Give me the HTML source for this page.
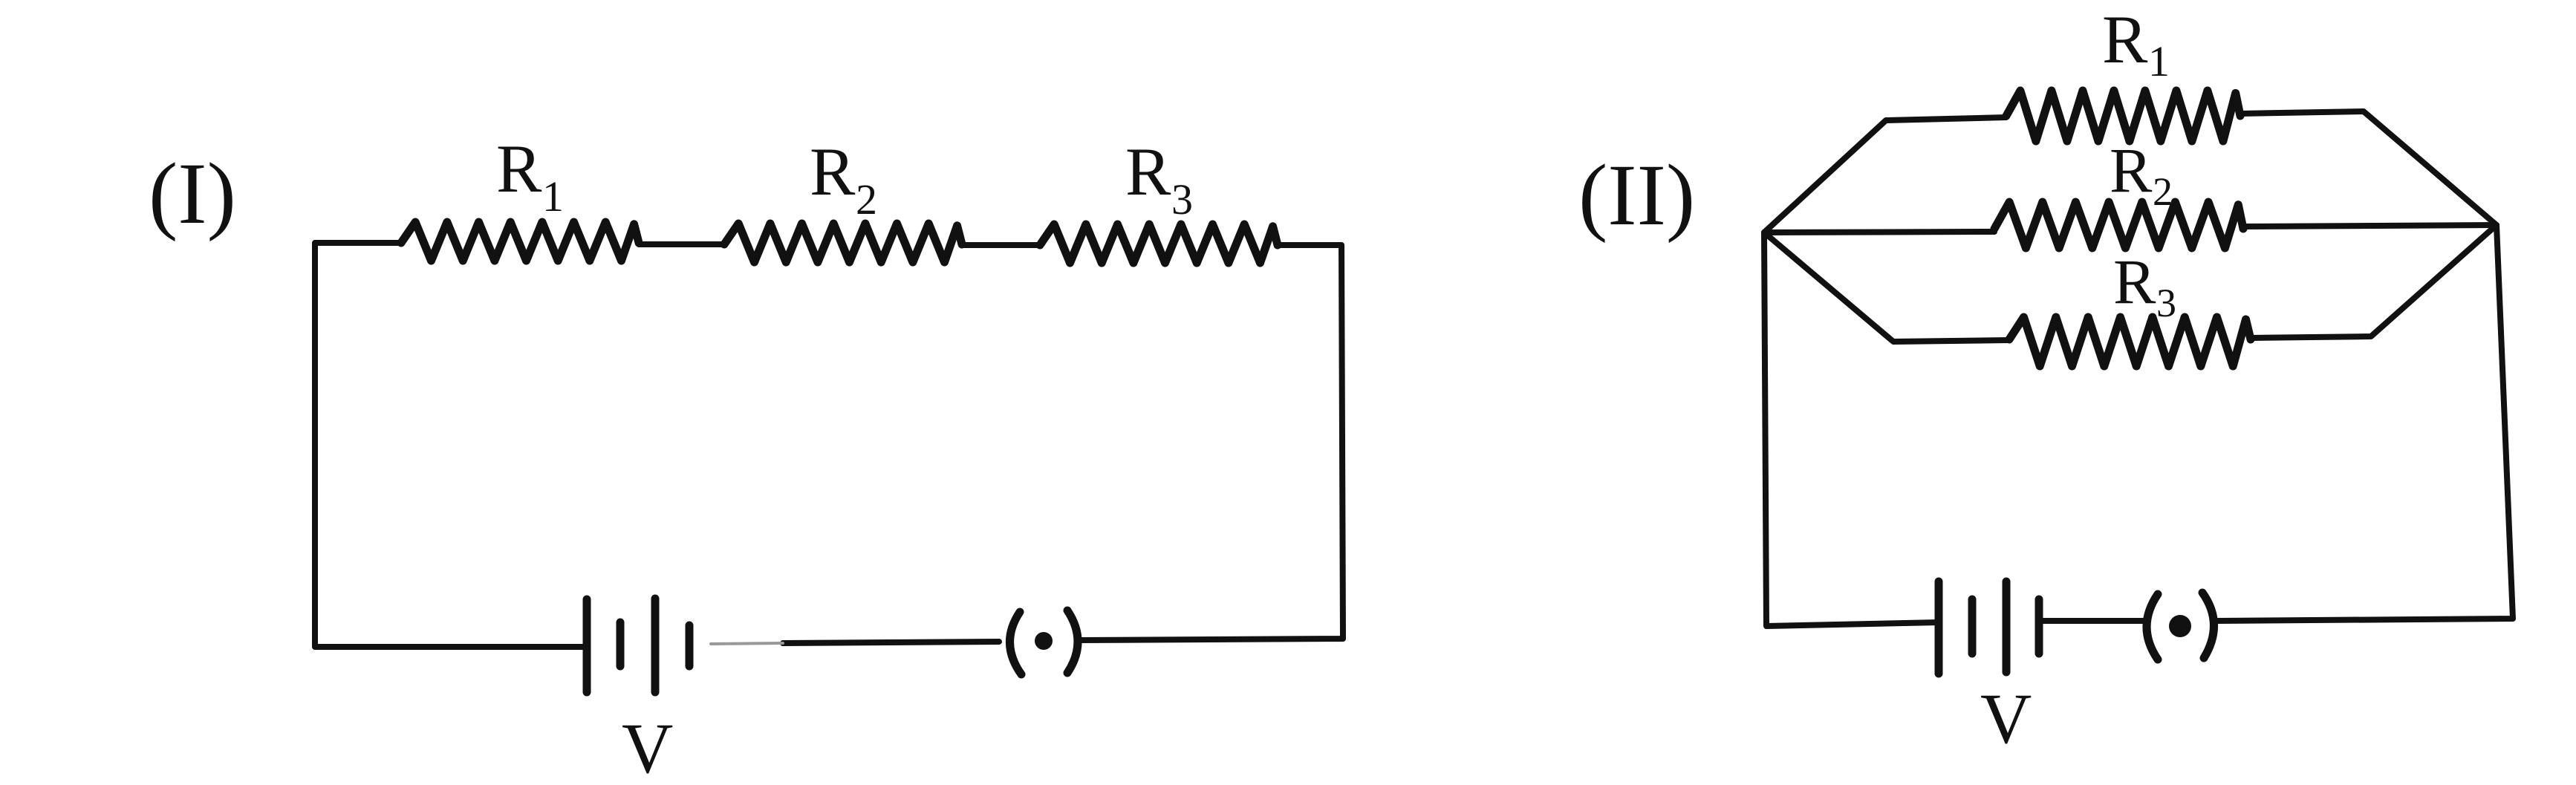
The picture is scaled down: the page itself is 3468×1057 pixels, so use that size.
<!DOCTYPE html>
<html><head><style>
html,body{margin:0;padding:0;background:#fff;}
svg{display:block;}
text{font-family:"Liberation Serif",serif;fill:#111;}
</style></head><body>
<svg width="3468" height="1057" viewBox="0 0 3468 1057" xmlns="http://www.w3.org/2000/svg">
<g stroke="#111" fill="none" stroke-linejoin="round" stroke-linecap="round">
<!-- Circuit I -->
<g stroke-width="8">
<polyline points="790,871 424,871 424,327 540,327"/>
<polyline points="860,329 975,329"/>
<polyline points="1295,330 1400,330"/>
<polyline points="1720,330 1806,330 1808,860 1453,862"/>
<polyline points="1054,866 1345,864"/>
</g>
<line x1="957" y1="867" x2="1054" y2="866" stroke-width="4" stroke="#999"/>
<g stroke-width="11">
<polyline id="z1" points=""/>
<polyline id="z2" points=""/>
<polyline id="z3" points=""/>
<line x1="790" y1="807" x2="790" y2="932"/>
<line x1="835" y1="838" x2="835" y2="897"/>
<line x1="882" y1="806" x2="882" y2="932"/>
<line x1="928" y1="842" x2="928" y2="897"/>
<path d="M1373,824 Q1345,866 1375,908"/>
<path d="M1437,822 Q1465,864 1437,906"/>
</g>
<circle cx="1405" cy="863" r="12" fill="#111" stroke="none"/>
<!-- Circuit II -->
<g stroke-width="8">
<polyline points="2701,158 2539,162 2375,313 2378,843 2610,838"/>
<polyline points="3016,153 3182,150 3361,303 3383,833 2985,836"/>
<polyline points="2375,313 2685,312"/>
<polyline points="3020,305 3361,303"/>
<polyline points="2375,313 2549,460 2705,458"/>
<polyline points="3030,455 3192,453 3361,303"/>
<polyline points="2745,836 2890,836"/>
</g>
<g stroke-width="11">
<polyline id="z4" points=""/>
<polyline id="z5" points=""/>
<polyline id="z6" points=""/>
<line x1="2610" y1="783" x2="2610" y2="907"/>
<line x1="2655" y1="807" x2="2655" y2="880"/>
<line x1="2701" y1="783" x2="2701" y2="905"/>
<line x1="2745" y1="807" x2="2745" y2="880"/>
<path d="M2905,800 Q2875,844 2905,888"/>
<path d="M2965,798 Q2995,840 2967,886"/>
</g>
<circle cx="2935" cy="843" r="15" fill="#111" stroke="none"/>
</g>
<!-- labels -->
<text x="200" y="300" font-size="118">(I)</text>
<text x="668" y="258" font-size="92">R</text><text x="730" y="284" font-size="58">1</text>
<text x="1090" y="262" font-size="92">R</text><text x="1152" y="288" font-size="58">2</text>
<text x="1515" y="262" font-size="92">R</text><text x="1577" y="288" font-size="58">3</text>
<text x="837" y="1040" font-size="96">V</text>
<text x="2125" y="302" font-size="118">(II)</text>
<text x="2830" y="84" font-size="92">R</text><text x="2892" y="102" font-size="58">1</text>
<text x="2840" y="258" font-size="86">R</text><text x="2898" y="276" font-size="54">2</text>
<text x="2845" y="408" font-size="86">R</text><text x="2903" y="426" font-size="54">3</text>
<text x="2666" y="1000" font-size="96">V</text>
</svg>
<script>
function zig(id,x0,x1,y,up,dn,n){
  var pts=[[x0,y]];var step=(x1-x0)/(2*n+1);
  for(var i=0;i<2*n;i++){var x=x0+step*(i+0.9);pts.push([x,(i%2==0)?y-up:y+dn]);}
  pts.push([x1-step*0.3,y-up*0.9]);pts.push([x1,y]);
  document.getElementById(id).setAttribute('points',pts.map(function(p){return p[0].toFixed(1)+','+p[1].toFixed(1)}).join(' '));
}
zig('z1',540,860,327,28,24,7);
zig('z2',975,1295,329,28,24,7);
zig('z3',1400,1720,330,28,24,7);
zig('z4',2701,3016,156,34,34,7);
zig('z5',2685,3020,308,36,26,7);
zig('z6',2705,3030,457,30,36,7);
</script>
</body></html>
